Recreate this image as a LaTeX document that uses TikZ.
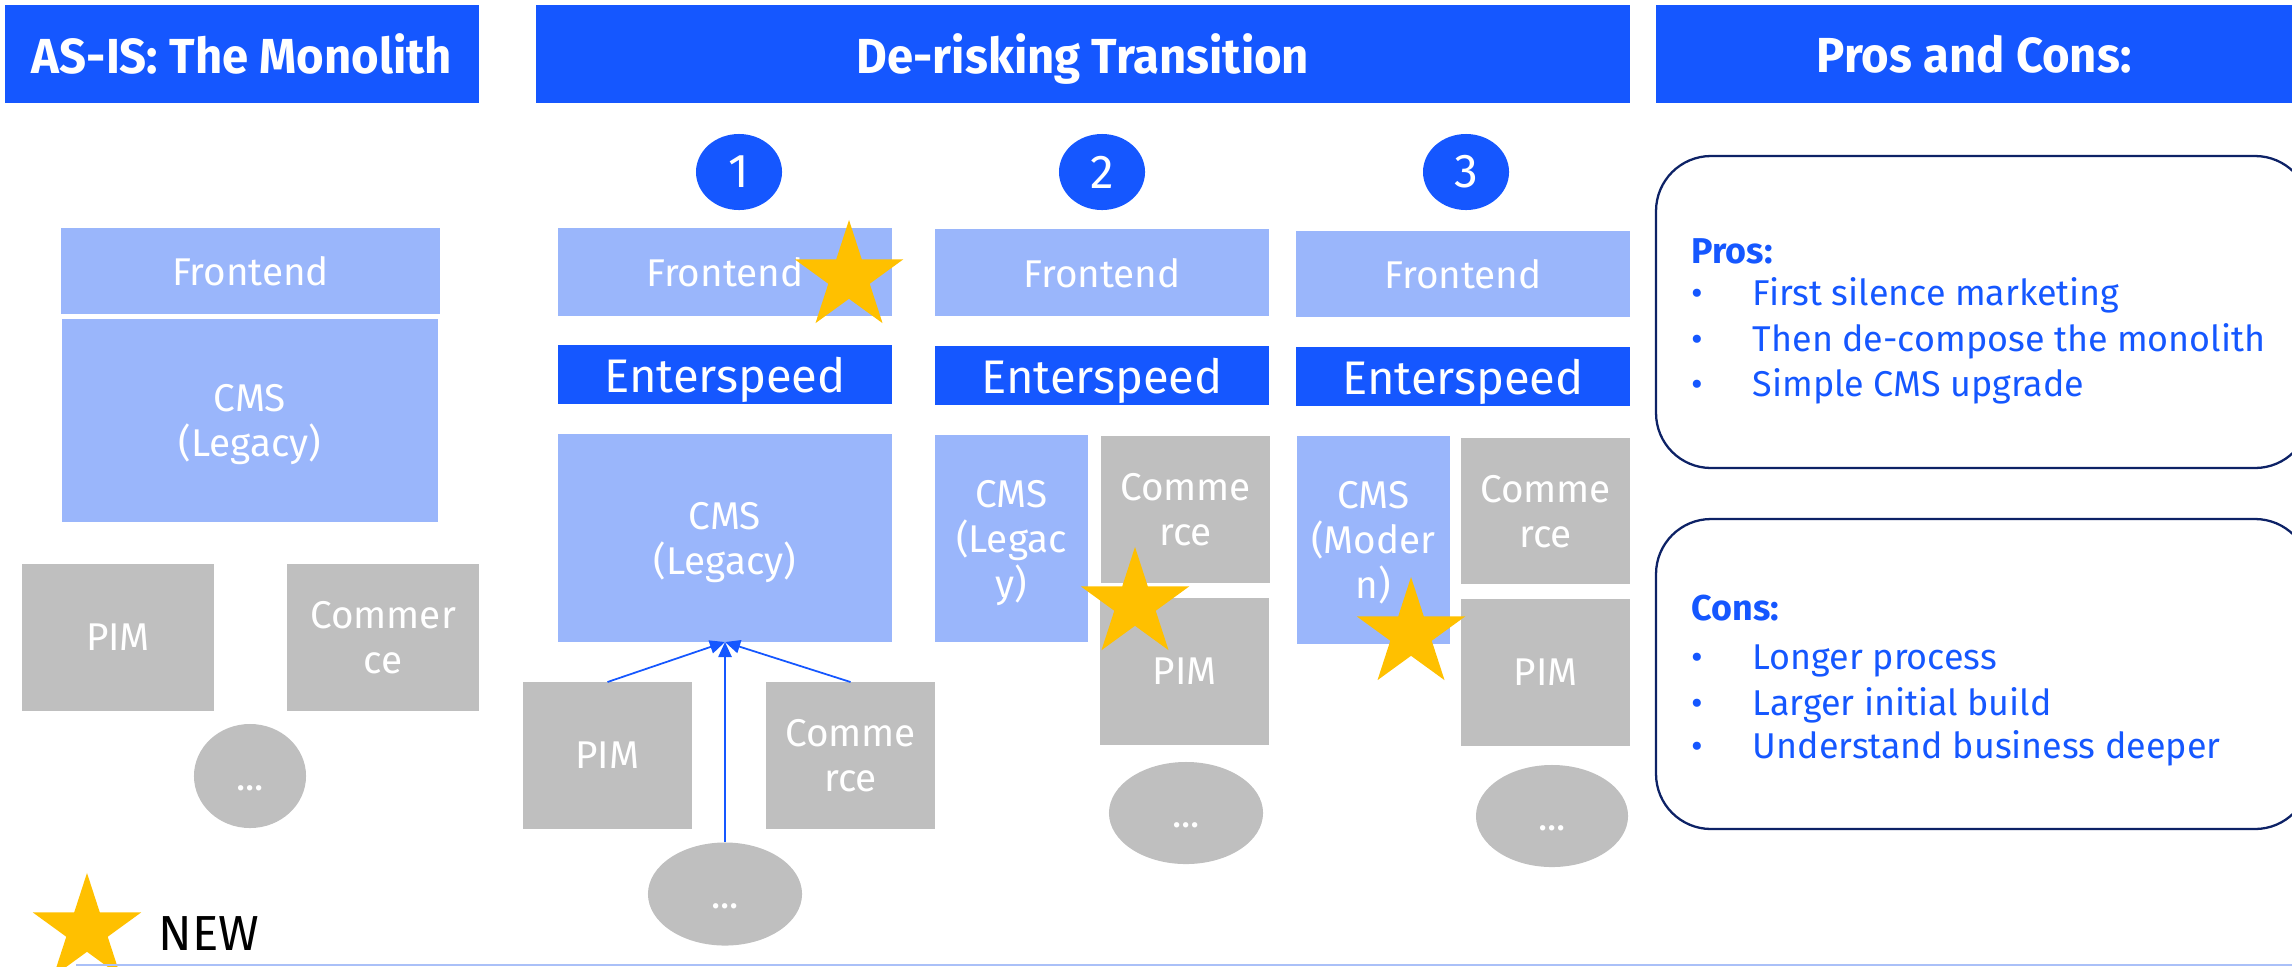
\documentclass[tikz,border=0pt]{standalone}
\usepackage{fontspec}
\usepackage{graphicx}
\setmainfont{Fira Sans}
\usetikzlibrary{shapes.geometric,arrows.meta}
\definecolor{eblue}{RGB}{21,87,255}
\definecolor{lblue}{RGB}{154,182,251}
\definecolor{egray}{RGB}{191,191,191}
\definecolor{estar}{RGB}{255,192,0}
\definecolor{navy}{RGB}{13,34,102}
\definecolor{lineblue}{RGB}{170,192,248}
\newcommand\placebox[7]{\node[#6, minimum width={(#4-#2)*0.01cm}, minimum height={(#5-#3)*0.01cm}] (#1) at ({(#2+#4)/2},{(#3+#5)/2}) {#7};}
\newcommand\hs[1]{\scalebox{0.96}[1]{#1}}
\tikzset{
  hdr/.style={fill=eblue, text=white, inner sep=0pt, outer sep=0pt, text depth=0pt, font=\fontsize{14}{16}\selectfont\bfseries},
  lbox/.style={fill=lblue, text=white, inner sep=0pt, outer sep=0pt, align=center, text depth=0pt, font=\fontsize{11}{12.8}\selectfont},
  gbox/.style={fill=egray, text=white, inner sep=0pt, outer sep=0pt, align=center, text depth=0pt, font=\fontsize{11}{12.8}\selectfont},
  esbox/.style={fill=eblue, text=white, inner sep=0pt, outer sep=0pt, text depth=0pt, font=\fontsize{13.4}{15}\selectfont},
  numc/.style={ellipse, fill=eblue, text=white, inner sep=0pt, minimum width=0.86cm, minimum height=0.76cm, font=\fontsize{13.5}{15}\selectfont},
  dots/.style={ellipse, fill=egray, text=white, inner sep=0pt, text height=0.28cm, text depth=0pt, font=\fontsize{11}{12.8}\selectfont},
  newstar/.style={star, star points=5, star point ratio=2.618, fill=estar, inner sep=0pt, minimum size=1.14cm},
  arr/.style={draw=eblue, line width=0.5pt, -{Triangle[length=4.3pt, width=3.8pt]}},
  pcbox/.style={draw=navy, line width=0.65pt, rounded corners=0.55cm},
  pctext/.style={text=eblue, inner sep=0pt, anchor=base west, font=\fontsize{10.2}{12.8}\selectfont},
}
\newcommand\bul{\makebox[17.4pt][l]{•}}
\begin{document}
\begin{tikzpicture}[x=0.01cm, y=-0.01cm]
\useasboundingbox (0,0) rectangle (2292,966);
\clip (0,0) rectangle (2292,966);
% headers
\placebox{h1}{5}{5}{479}{103}{hdr}{\hs{AS-IS: The Monolith}}
\placebox{h2}{536}{5}{1630}{103}{hdr}{\hs{De-risking Transition}}
\placebox{h3}{1656}{5}{2292}{103}{hdr}{\hs{Pros and Cons:}}
% AS-IS column
\placebox{fe0}{61}{228}{440}{314}{lbox}{Frontend}
\placebox{cms0}{62}{319}{438}{522}{lbox}{CMS\\(Legacy)}
\placebox{pim0}{22}{564}{214}{711}{gbox}{PIM}
\placebox{com0}{287}{564}{479}{711}{gbox}{Commer\\ce}
\node[dots, minimum width=1.12cm, minimum height=1.04cm] (dot0) at (250,776) {...};
% column 1
\node[numc] (n1) at (739,172) {1};
\placebox{fe1}{558}{228}{892}{316}{lbox}{Frontend}
\placebox{es1}{558}{345}{892}{404}{esbox}{Enterspeed}
\placebox{cms1}{558}{434}{892}{642}{lbox}{CMS\\(Legacy)}
\placebox{pim1}{523}{682}{692}{829}{gbox}{PIM}
\placebox{com1}{766}{682}{935}{829}{gbox}{Comme\\rce}
\node[dots, minimum width=1.54cm, minimum height=1.03cm] (dot1) at (725,894) {...};
\draw[arr] (pim1.north) -- (cms1.south);
\draw[arr] (com1.north) -- (cms1.south);
\draw[arr] (dot1.north) -- (cms1.south);
\node[newstar] (st1) at (849,277) {};
% column 2
\node[numc] (n2) at (1102,172) {2};
\placebox{fe2}{935}{229}{1269}{316}{lbox}{Frontend}
\placebox{es2}{935}{346}{1269}{405}{esbox}{Enterspeed}
\placebox{cms2}{935}{435}{1088}{642}{lbox}{CMS\\(Legac\\y)}
\placebox{com2}{1101}{436}{1270}{583}{gbox}{Comme\\rce}
\placebox{pim2}{1100}{598}{1269}{745}{gbox}{PIM}
\node[dots, minimum width=1.54cm, minimum height=1.02cm] (dot2) at (1186,813) {...};
\node[newstar] (st2) at (1135,604) {};
% column 3
\node[numc] (n3) at (1466,172) {3};
\placebox{fe3}{1296}{231}{1630}{317}{lbox}{Frontend}
\placebox{es3}{1296}{347}{1630}{406}{esbox}{Enterspeed}
\placebox{cms3}{1297}{436}{1450}{644}{lbox}{CMS\\(Moder\\n)}
\placebox{com3}{1461}{438}{1630}{584}{gbox}{Comme\\rce}
\placebox{pim3}{1461}{599}{1630}{746}{gbox}{PIM}
\node[dots, minimum width=1.52cm, minimum height=1.02cm] (dot3) at (1552,816) {...};
\node[newstar] (st3) at (1411,634) {};
% pros and cons
\placebox{prosbox}{1656}{156}{2310}{468}{pcbox}{}
\placebox{consbox}{1656}{519}{2310}{829}{pcbox}{}
\node[pctext] (p0) at (1691,263) {\textbf{Pros:}};
\node[pctext] (p1) at (1691,305) {\bul First silence marketing};
\node[pctext] (p2) at (1691,351) {\bul Then de-compose the monolith};
\node[pctext] (p3) at (1691,396) {\bul Simple CMS upgrade};
\node[pctext] (c0) at (1691,620) {\textbf{Cons:}};
\node[pctext] (c1) at (1691,669) {\bul Longer process};
\node[pctext] (c2) at (1691,715) {\bul Larger initial build};
\node[pctext] (c3) at (1691,758) {\bul Understand business deeper};
% legend
\node[newstar] (stn) at (87,930) {};
\node[anchor=base west, inner sep=0pt, font=\fontsize{14}{16}\selectfont] (newlbl) at (158,950) {NEW};
\coordinate (lineA) at (76,965);
\coordinate (lineB) at (2292,965);
\draw[lineblue, line width=0.6pt] (lineA) -- (lineB);
\end{tikzpicture}
\end{document}
